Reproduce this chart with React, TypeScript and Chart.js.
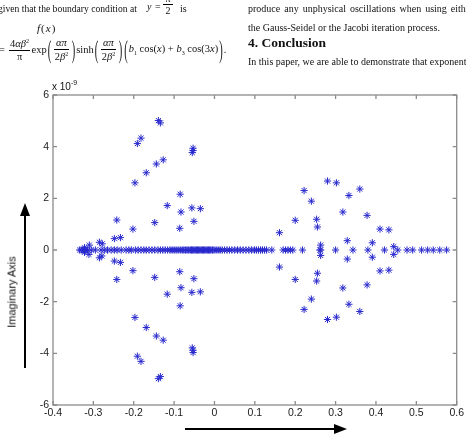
import React, { useEffect, useRef } from "react";
import { Chart, registerables } from "chart.js";

Chart.register(...registerables);

// Eigenvalues on the real axis (imaginary part = 0), real parts
const realAxisRe = [
  -0.334, -0.330, -0.326, -0.322, -0.318, -0.314, -0.305, -0.295, -0.281, -0.273,
  -0.265, -0.256, -0.248, -0.241, -0.231, -0.219, -0.212, -0.206, -0.196, -0.189,
  -0.182, -0.175, -0.169, -0.162, -0.155, -0.148, -0.140, -0.134, -0.128, -0.122,
  -0.116, -0.110, -0.105, -0.100, -0.095, -0.090, -0.085, -0.080, -0.076, -0.072,
  -0.068, -0.064, -0.060, -0.057, -0.054, -0.051, -0.048, -0.045, -0.042, -0.039,
  -0.036, -0.033, -0.030, -0.027, -0.024, -0.021, -0.018, -0.015, -0.012, -0.009,
  -0.005, -0.001, 0.004, 0.009, 0.014, 0.019, 0.025, 0.031, 0.037, 0.043,
  0.050, 0.057, 0.064, 0.071, 0.078, 0.085, 0.092, 0.099, 0.104, 0.109,
  0.114, 0.119, 0.124, 0.129, 0.142, 0.170, 0.176, 0.182, 0.188, 0.194,
  0.218, 0.261, 0.263, 0.300, 0.343, 0.380, 0.421, 0.454, 0.477, 0.491,
  0.513, 0.528, 0.542, 0.558, 0.575,
];

// Left cluster, upper half
const leftUpperRe = [
  -0.139, -0.134, -0.182, -0.191, -0.053, -0.053, -0.055, -0.127, -0.144, -0.169,
  -0.197, -0.085, -0.117, -0.083, -0.056, -0.035, -0.051, -0.242, -0.148, -0.086,
  -0.202, -0.248, -0.233, -0.285, -0.278, -0.310, -0.322,
];
const leftUpperIm = [
  5.01, 4.92, 4.33, 4.12, 3.94, 3.85, 3.77, 3.49, 3.33, 2.99,
  2.60, 2.16, 1.72, 1.47, 1.63, 1.60, 1.11, 1.16, 1.06, 0.84,
  0.81, 0.44, 0.48, 0.30, 0.24, 0.19, 0.09,
];

// Left cluster, lower half
const leftLowerRe = [
  -0.139, -0.134, -0.182, -0.191, -0.053, -0.053, -0.055, -0.127, -0.144, -0.169,
  -0.197, -0.085, -0.117, -0.083, -0.056, -0.035, -0.051, -0.242, -0.148, -0.086,
  -0.202, -0.248, -0.233, -0.285, -0.279, -0.311, -0.322,
];
const leftLowerIm = [
  -4.98, -4.90, -4.31, -4.11, -3.97, -3.88, -3.79, -3.49, -3.33, -3.00,
  -2.61, -2.16, -1.71, -1.46, -1.64, -1.62, -1.11, -1.14, -1.06, -0.84,
  -0.80, -0.43, -0.48, -0.30, -0.23, -0.17, -0.09,
];

// Right cluster, upper half
const rightUpperRe = [
  0.280, 0.302, 0.222, 0.360, 0.240, 0.333, 0.318, 0.378, 0.200, 0.253,
  0.255, 0.410, 0.432, 0.161, 0.329, 0.391, 0.263, 0.444,
];
const rightUpperIm = [
  2.67, 2.60, 2.30, 2.36, 1.89, 2.11, 1.47, 1.34, 1.15, 1.19,
  0.89, 0.81, 0.78, 0.67, 0.36, 0.28, 0.19, 0.13,
];

// Right cluster, lower half
const rightLowerRe = [
  0.280, 0.302, 0.222, 0.360, 0.240, 0.333, 0.318, 0.378, 0.200, 0.253,
  0.255, 0.410, 0.432, 0.161, 0.329, 0.391, 0.263, 0.444,
];
const rightLowerIm = [
  -2.69, -2.60, -2.30, -2.38, -1.90, -2.10, -1.47, -1.35, -1.14, -1.20,
  -0.90, -0.81, -0.78, -0.66, -0.35, -0.28, -0.21, -0.17,
];

const xTicks = [-0.4, -0.3, -0.2, -0.1, 0, 0.1, 0.2, 0.3, 0.4, 0.5, 0.6];
const yTicks = [-6, -4, -2, 0, 2, 4, 6];

const SERIF = '"Liberation Serif", "Times New Roman", serif';
const SANS = '"Liberation Sans", Arial, sans-serif';

function fmt(v: number): string {
  const n = Number(v.toFixed(1));
  return n === 0 ? "0" : String(n);
}

const inwardTicks = {
  id: "inwardTicks",
  afterDraw(chart: any) {
    const { ctx, chartArea: a, scales } = chart;
    const L = 4;
    ctx.save();
    ctx.strokeStyle = "#8c8c8c";
    ctx.lineWidth = 1.3;
    ctx.strokeRect(a.left, a.top, a.right - a.left, a.bottom - a.top);
    ctx.beginPath();
    xTicks.forEach((v) => {
      const px = scales.x.getPixelForValue(v);
      ctx.moveTo(px, a.bottom);
      ctx.lineTo(px, a.bottom - L);
      ctx.moveTo(px, a.top);
      ctx.lineTo(px, a.top + L);
    });
    yTicks.forEach((v) => {
      const py = scales.y.getPixelForValue(v);
      ctx.moveTo(a.left, py);
      ctx.lineTo(a.left + L, py);
      ctx.moveTo(a.right, py);
      ctx.lineTo(a.right - L, py);
    });
    ctx.stroke();

    // annotation arrows
    ctx.fillStyle = "#000";
    ctx.strokeStyle = "#000";
    ctx.lineWidth = 2;
    ctx.beginPath();
    ctx.moveTo(25, 368);
    ctx.lineTo(25, 214);
    ctx.moveTo(185, 429);
    ctx.lineTo(336, 429);
    ctx.stroke();
    ctx.beginPath();
    ctx.moveTo(25, 203);
    ctx.lineTo(20, 216);
    ctx.lineTo(30, 216);
    ctx.closePath();
    ctx.fill();
    ctx.beginPath();
    ctx.moveTo(347, 429);
    ctx.lineTo(334, 424);
    ctx.lineTo(334, 434);
    ctx.closePath();
    ctx.fill();
    ctx.restore();
  },
};

function zip(re: number[], im: number[]) {
  return re.map((x, i) => ({ x, y: im[i] }));
}

function Frac({ num, den, size = 10.5 }: { num: React.ReactNode; den: React.ReactNode; size?: number }) {
  return (
    <span
      style={{
        display: "inline-flex",
        flexDirection: "column",
        alignItems: "center",
        verticalAlign: "middle",
        fontSize: size,
        lineHeight: 1.15,
        margin: "0 1.5px",
      }}
    >
      <span style={{ padding: "0 1px" }}>{num}</span>
      <span style={{ borderTop: "1px solid #000", padding: "0 1px", alignSelf: "stretch", textAlign: "center" }}>{den}</span>
    </span>
  );
}

function Paren({ ch }: { ch: string }) {
  return (
    <span style={{ display: "inline-block", transform: "scale(1, 2.3)", verticalAlign: "middle", margin: "0 1px" }}>
      {ch}
    </span>
  );
}

export default function App() {
  const ref = useRef<HTMLCanvasElement | null>(null);

  useEffect(() => {
    if (!ref.current) return;
    const pointStyle = {
      pointStyle: "star" as const,
      pointRadius: 3.6,
      pointBorderWidth: 1,
      pointBorderColor: "rgb(40,40,205)",
      pointBackgroundColor: "rgb(40,40,205)",
      showLine: false,
    };
    const chart = new Chart(ref.current, {
      type: "scatter",
      data: {
        datasets: [
          { label: "real", data: realAxisRe.map((x) => ({ x, y: 0 })), ...pointStyle },
          { label: "lu", data: zip(leftUpperRe, leftUpperIm), ...pointStyle },
          { label: "ll", data: zip(leftLowerRe, leftLowerIm), ...pointStyle },
          { label: "ru", data: zip(rightUpperRe, rightUpperIm), ...pointStyle },
          { label: "rl", data: zip(rightLowerRe, rightLowerIm), ...pointStyle },
        ],
      },
      options: {
        responsive: false,
        animation: false,
        layout: { padding: { left: 0, top: 95, right: 7, bottom: 0 } },
        plugins: { legend: { display: false }, tooltip: { enabled: false } },
        scales: {
          x: {
            type: "linear",
            min: -0.4,
            max: 0.6,
            afterBuildTicks: (s: any) => {
              s.ticks = xTicks.map((v) => ({ value: v }));
            },
            afterFit: (s: any) => {
              s.height = 30;
            },
            grid: { display: false, drawTicks: false },
            border: { display: false },
            ticks: {
              padding: 2,
              autoSkip: false,
              maxRotation: 0,
              color: "#1a1a1a",
              font: { family: SANS, size: 10.5 },
              callback: (v: any) => fmt(Number(v)),
            },
          },
          y: {
            type: "linear",
            min: -6,
            max: 6,
            afterBuildTicks: (s: any) => {
              s.ticks = yTicks.map((v) => ({ value: v }));
            },
            afterFit: (s: any) => {
              s.width = 53;
            },
            grid: { display: false, drawTicks: false },
            border: { display: false },
            ticks: {
              padding: 4,
              autoSkip: false,
              color: "#1a1a1a",
              font: { family: SANS, size: 10.5 },
              callback: (v: any) => String(Number(v)),
            },
          },
        },
      },
      plugins: [inwardTicks],
    });
    return () => chart.destroy();
  }, []);

  const txt: React.CSSProperties = {
    position: "absolute",
    fontFamily: SERIF,
    fontSize: 10,
    lineHeight: "10px",
    whiteSpace: "nowrap",
    color: "#111",
  };

  return (
    <div
      style={{
        position: "fixed",
        left: 0,
        top: 0,
        width: 466,
        height: 435,
        overflow: "hidden",
        background: "#fff",
      }}
    >
      <canvas ref={ref} width={466} height={435} style={{ position: "absolute", left: 0, top: 0, display: "block" }} />

      {/* left column text */}
      <div style={{ ...txt, left: -2, top: 4, fontSize: 9.6 }}>given that the boundary condition at</div>
      <div style={{ ...txt, left: 147, top: 2, fontStyle: "italic" }}>y</div>
      <div style={{ ...txt, left: 155, top: 2 }}>=</div>
      <div style={{ ...txt, left: 163, top: -3, width: 10, textAlign: "center" }}>
        <div style={{ borderBottom: "1px solid #000", height: 7, lineHeight: "4px" }}>π</div>
        <div style={{ lineHeight: "11px" }}>2</div>
      </div>
      <div style={{ ...txt, left: 180, top: 4 }}>is</div>

      <div style={{ ...txt, left: 37, top: 23, fontSize: 11, lineHeight: "11px" }}>
        <i>f</i>
        <span style={{ margin: "0 1px" }}>(</span>
        <i>x</i>
        <span style={{ margin: "0 1px" }}>)</span>
      </div>

      <div style={{ ...txt, left: -1, top: 37, fontSize: 10.5, lineHeight: "normal", display: "flex", alignItems: "center" }}>
        <span>=&nbsp;</span>
        <Frac num={<span>4<i>αβ</i><sup style={{ fontSize: 6 }}>2</sup></span>} den={<span>π</span>} />
        <span>exp</span>
        <Paren ch="(" />
        <Frac num={<i>απ</i>} den={<span>2<i>β</i><sup style={{ fontSize: 6 }}>2</sup></span>} />
        <Paren ch=")" />
        <span>sinh</span>
        <Paren ch="(" />
        <Frac num={<i>απ</i>} den={<span>2<i>β</i><sup style={{ fontSize: 6 }}>2</sup></span>} />
        <Paren ch=")" />
        <Paren ch="(" />
        <span>
          <i>b</i>
          <sub style={{ fontSize: 6 }}>1</sub> cos(<i>x</i>) + <i>b</i>
          <sub style={{ fontSize: 6 }}>3</sub> cos(3<i>x</i>)
        </span>
        <Paren ch=")" />
        <span>.</span>
      </div>

      {/* right column text */}
      <div style={{ ...txt, left: 248, top: 4, wordSpacing: 1.5 }}>produce any unphysical oscillations when using either</div>
      <div style={{ ...txt, left: 248, top: 23 }}>the Gauss-Seidel or the Jacobi iteration process.</div>
      <div style={{ ...txt, left: 248, top: 36, fontSize: 13.5, lineHeight: "13.5px", fontWeight: "bold" }}>4. Conclusion</div>
      <div style={{ ...txt, left: 248, top: 57 }}>In this paper, we are able to demonstrate that exponential</div>

      {/* axis annotations */}
      <div style={{ position: "absolute", left: 52, top: 79, fontFamily: SANS, fontSize: 10, lineHeight: "10px", color: "#111", whiteSpace: "nowrap" }}>
        x 10<sup style={{ fontSize: 7, position: "relative", top: -1 }}>-9</sup>
      </div>
      <div
        style={{
          position: "absolute",
          left: 12,
          top: 292,
          transform: "translate(-50%, -50%) rotate(-90deg)",
          fontFamily: SANS,
          fontSize: 11,
          lineHeight: "11px",
          color: "#111",
          whiteSpace: "nowrap",
        }}
      >
        Imaginary Axis
      </div>
    </div>
  );
}
